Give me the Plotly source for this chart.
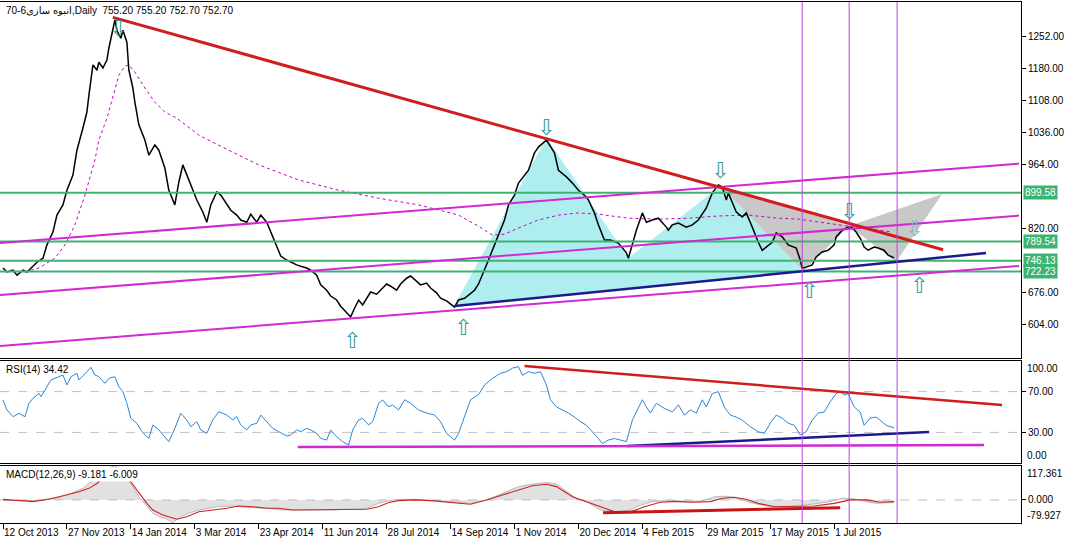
import plotly.graph_objects as go
from plotly.subplots import make_subplots

# ---------------- data (bar index = trading day from 12 Oct 2013) ----------------
date_tick_bars = [0, 32, 64, 96, 128, 160, 192, 224, 256, 288, 320, 352, 384, 416]
date_labels = ["12 Oct 2013", "27 Nov 2013", "14 Jan 2014", "3 Mar 2014", "23 Apr 2014",
               "11 Jun 2014", "28 Jul 2014", "14 Sep 2014", "1 Nov 2014", "20 Dec 2014",
               "4 Feb 2015", "29 Mar 2015", "17 May 2015", "1 Jul 2015"]

price_bar = [0,2,5,7,10,12,15,17,20,22,25,27,30,32,35,37,40,42,43,45,47,48,50,52,53,55,56,57,59,60,
             62,63,65,66,68,71,73,76,78,81,83,86,88,90,92,95,97,100,102,104,107,109,112,114,117,119,122,124,127,129,
             132,134,137,139,142,144,147,149,152,154,157,159,162,164,167,169,172,174,176,178,180,182,184,187,189,192,194,197,199,202,
             204,207,209,212,214,217,219,222,224,226,228,231,233,236,238,241,243,246,248,251,253,256,258,261,263,266,268,272,273,276,
             278,282,285,288,292,293,296,298,301,304,308,312,313,315,317,320,322,325,328,332,333,335,338,342,345,348,352,355,358,360,
             362,363,365,367,370,372,375,378,380,382,385,387,390,393,397,399,400,402,405,407,410,413,416,417,420,423,425,427,429,431,
             433,436,438,441,443,446]
price_close = [730,721,725,714,725,721,734,743,752,782,811,849,872,905,939,995,1045,1081,1119,1187,
               1175,1193,1180,1198,1225,1272,1288,1265,1247,1265,1238,1175,1135,1103,1052,1018,984,1007,995,955,
               905,872,923,962,939,905,883,856,833,872,901,894,872,860,849,838,833,851,833,849,
               833,811,775,757,748,743,737,734,730,725,714,692,680,667,658,644,631,620,640,658,
               647,662,676,671,680,694,689,680,694,707,712,701,692,696,685,674,662,656,649,642,
               658,662,669,680,694,725,748,782,804,838,872,894,921,939,950,989,1002,1018,1011,989,
               950,935,921,905,890,883,854,827,793,793,786,764,752,786,815,854,833,838,842,822,
               815,827,831,822,827,838,865,899,917,912,883,899,876,856,845,854,822,788,770,777,
               788,809,800,782,775,748,730,732,737,755,766,770,782,800,815,822,820,811,797,777,
               770,777,775,770,759,752.7]

ma_bar = [11,18,26,31,36,41,46,48,52,56,58,61,63,66,71,76,81,87,98,113,128,148,168,188,208,228,238,245,251,258,
          268,278,288,298,313,328,343,358,373,388,398,412,423,433,445]
ma_val = [721,730,752,782,827,894,973,1018,1067,1130,1164,1184,1187,1171,1135,1103,1081,1067,1029,995,
          962,928,905,887,872,849,824,804,806,820,838,849,854,851,842,840,842,847,849,842,840,831,824,818,811]

rsi_bar = [0,2,5,8,11,13,15,18,19,22,24,28,30,32,34,37,38,42,44,46,48,51,53,56,58,60,62,64,67,69,
           71,73,75,78,81,83,86,89,92,94,97,99,102,105,108,112,115,117,119,122,124,127,129,132,135,138,142,144,147,149,
           152,154,157,159,162,164,167,170,173,175,178,180,183,185,188,190,193,195,198,
           201,204,208,212,216,219,222,226,228,231,234,238,241,245,249,252,255,258,260,263,266,269,272,274,277,280,283,286,289,292,
           295,298,300,303,306,309,312,315,318,320,322,324,327,331,335,338,341,344,347,350,352,355,358,361,364,367,370,374,378,381,
           384,387,390,393,396,399,402,405,408,411,414,417,419,421,423,426,429,431,434,437,439,442,446]
rsi_val = [61.8,52,45.4,48.7,45.4,58.5,63.4,68.3,65,74.8,81.4,84.6,86.3,76.5,84.6,88,81.4,89.5,93.8,86.3,
           84.6,78.1,83,84.6,74.8,70,58.5,43.8,38.9,32.4,27.5,24.2,37.3,32.4,25.8,20.9,34,48.7,42.2,35.6,
           40.5,32.4,29.1,42.2,50.3,47,42.2,45.4,37.3,32.4,37.3,38.9,47,40.5,34,30.7,26.5,27.5,32.4,30.7,
           34,32.4,29.1,24.2,22.5,32.4,25.8,20.9,17.6,32.4,42.2,43.8,37.3,40.5,58.5,61.8,55.2,56.9,52,
           62,58.5,52,49,47,40.5,29,22.5,29,45,62,67,76.5,83,88,89.5,93,94.5,86,89.5,
           88,89.5,76.5,62,55,52,49,45,40.5,37,30.7,24,19,22.5,24,22.5,21,42,53.6,62,
           55,49,58.5,53.6,50,57,47,52,49,62,55,68,70,55,47,45,42,35.6,30.7,29,
           39,47,44,39,37,27.5,30.7,42,49,50,60,68,70,66.7,68,55,50,37,44,45,42,37,34.42]

macd_bar = [0,8,18,23,28,32,36,40,43,46,48,52,55,58,62,63,65,68,70,72,75,78,82,85,88,93,98,103,108,115,
            123,132,140,148,158,165,173,182,188,193,198,206,218,234,242,250,258,265,272,277,281,287,293,299,305,313,319,325,333,341,
            349,356,362,368,374,382,390,398,406,414,420,426,432,437,446]
macd_val = [-2,-3,-2,5,8,17,28,40,57,69,85,105,117,112,90,66,46,11,-6,-23,-46,-58,-66,-79,-62,-46,-35,-29,-23,-21,
            -26,-29,-35,-35,-35,-35,-32,-29,-12,-3,2,2,-3,-12,0,23,46,55,60,55,34,5,-9.5,-35,-41,-37,-18,-6,-3,-7,
            -6,11,13,6,-9.5,-21,-23.5,-21,-14,-6,6,3.5,-6,-12,-9.181]
sig_bar = [0,8,15,23,32,38,43,47,51,56,61,64,68,72,75,80,87,92,98,105,112,118,125,132,138,145,152,158,165,173,
           178,182,188,193,198,206,214,224,234,242,250,258,265,272,277,285,293,301,307,313,321,329,337,345,354,360,366,372,378,386,
           396,406,416,424,432,439,446]
sig_val = [2,-2.6,-6,2,17,28,40,57,80,100,90,63,23,-12,-35,-52,-67,-58,-41,-35,-29,-21,-23.5,-29,-29,-35,-35,-35,-35,-32.5,
           -35,-32.5,-23.5,-9,-2.6,0,-2.6,-9.5,-15,0,17,34,49,54,46,11,-9.5,-29,-43,-44,-23.5,-8,-5,-8,-6,5.5,9,2,-12,-23.5,
           -23.5,-21,-12,0,0,-8,-6.009]

# drawn objects (bar index, price / indicator value)
red_trend_bar, red_trend_price = [55, 470.5], [1294, 771]
channel_bar = [-1.5, 508.5]
channel_upper, channel_middle, channel_lower = [786, 965], [669, 848], [554.5, 734.5]
navy_bar, navy_price = [226, 492], [644.5, 763.75]
green_levels = [899.58, 789.54, 746.13, 722.23]
pattern_bar = [226, 272, 313, 359, 400.5]
pattern_price = [646.75, 1022.5, 752.5, 914.5, 723.25]
gray1_bar, gray1_price = [359, 400.5, 423.5], [914.5, 723.25, 824.5]
gray2_bar, gray2_price = [423.5, 470, 447], [824.5, 896.5, 743.5]
down_bar, down_price = [57.5, 272, 359, 423.5], [1268, 1047.25, 950.5, 858.25]
faded_down_bar, faded_down_price = [456], [820]
up_bar, up_price = [174.5, 230, 403.5, 458.5], [568, 597.25, 680.5, 691.75]
vline_bar = [400, 423.5, 447.5]
rsi_red_bar, rsi_red_val = [261, 500], [95, 56.9]
rsi_navy_bar, rsi_navy_val = [312.5, 463.5], [16.7, 30.4]
rsi_mag_bar, rsi_mag_val = [147.5, 491], [15.7, 17.6]
macd_red_bar, macd_red_val = [300.3, 419], [-44.3, -27]

main_ticks = [604, 676, 820, 964, 1036, 1108, 1180, 1252]

# ---------------- layout constants ----------------
W, H = 1068, 546
RIGHT = 1021
def prow(p):
    return 1 - p / H

FONT = "Liberation Sans, DejaVu Sans, sans-serif"
GREEN = "#3CB371"
MAG = "#D22AD2"
VIOLET = "#C040E0"
RED = "#D01E1E"
NAVY = "#1A1A8C"
TEAL = "#3A9C9C"

fig = make_subplots(rows=3, cols=1, shared_xaxes=True, vertical_spacing=0)

# pattern fills
fig.add_trace(go.Scatter(x=pattern_bar + [pattern_bar[0]], y=pattern_price + [pattern_price[0]],
                         fill="toself", fillcolor="rgb(175,238,238)", mode="lines",
                         line=dict(width=0), hoverinfo="skip"), row=1, col=1)
for tb, tp in [(gray1_bar, gray1_price), (gray2_bar, gray2_price)]:
    fig.add_trace(go.Scatter(x=tb + [tb[0]], y=tp + [tp[0]], fill="toself",
                             fillcolor="rgb(200,200,200)", mode="lines",
                             line=dict(width=0), hoverinfo="skip"), row=1, col=1)
# moving average
fig.add_trace(go.Scatter(x=ma_bar, y=ma_val, mode="lines",
                         line=dict(color="#CC00CC", width=1, dash="3px,3px")), row=1, col=1)
# price
fig.add_trace(go.Scatter(x=price_bar, y=price_close, mode="lines",
                         line=dict(color="black", width=1.5)), row=1, col=1)

# RSI
fig.add_trace(go.Scatter(x=rsi_bar, y=rsi_val, mode="lines",
                         line=dict(color="#2B86D8", width=1)), row=2, col=1)
# MACD
fig.add_trace(go.Scatter(x=macd_bar, y=macd_val, mode="lines", fill="tozeroy",
                         fillcolor="rgba(180,180,180,0.4)",
                         line=dict(color="rgba(165,165,165,0.9)", width=0.8)), row=3, col=1)
fig.add_trace(go.Scatter(x=sig_bar, y=sig_val, mode="lines",
                         line=dict(color="#CC2222", width=1.1)), row=3, col=1)

shapes = []
# levels
for lv in [30, 70]:
    shapes.append(dict(type="line", xref="x", yref="y2", x0=-1.5, x1=509.5, y0=lv, y1=lv,
                       line=dict(color="#C0C0C0", width=1, dash="dash"), layer="below"))
shapes.append(dict(type="line", xref="x", yref="y3", x0=-1.5, x1=509.5, y0=0, y1=0,
                   line=dict(color="#C0C0C0", width=1, dash="dash"), layer="below"))
# green horizontal lines
for lv in green_levels:
    shapes.append(dict(type="line", xref="x", yref="y", x0=-1.5, x1=509.5, y0=lv, y1=lv,
                       line=dict(color=GREEN, width=2)))
# channel
for ch in [channel_upper, channel_middle, channel_lower]:
    shapes.append(dict(type="line", xref="x", yref="y", x0=channel_bar[0], x1=channel_bar[1],
                       y0=ch[0], y1=ch[1], line=dict(color=MAG, width=2)))
# navy support
shapes.append(dict(type="line", xref="x", yref="y", x0=navy_bar[0], x1=navy_bar[1],
                   y0=navy_price[0], y1=navy_price[1], line=dict(color=NAVY, width=2.5)))
# red trend
shapes.append(dict(type="line", xref="x", yref="y", x0=red_trend_bar[0], x1=red_trend_bar[1],
                   y0=red_trend_price[0], y1=red_trend_price[1], line=dict(color=RED, width=3)))
# RSI lines
shapes.append(dict(type="line", xref="x", yref="y2", x0=rsi_red_bar[0], x1=rsi_red_bar[1],
                   y0=rsi_red_val[0], y1=rsi_red_val[1], line=dict(color=RED, width=2.5)))
shapes.append(dict(type="line", xref="x", yref="y2", x0=rsi_navy_bar[0], x1=rsi_navy_bar[1],
                   y0=rsi_navy_val[0], y1=rsi_navy_val[1], line=dict(color=NAVY, width=2.5)))
shapes.append(dict(type="line", xref="x", yref="y2", x0=rsi_mag_bar[0], x1=rsi_mag_bar[1],
                   y0=rsi_mag_val[0], y1=rsi_mag_val[1], line=dict(color=MAG, width=2.5)))
# MACD line
shapes.append(dict(type="line", xref="x", yref="y3", x0=macd_red_bar[0], x1=macd_red_bar[1],
                   y0=macd_red_val[0], y1=macd_red_val[1], line=dict(color="#C81414", width=3)))
# vertical lines across all panels
for vb in vline_bar:
    shapes.append(dict(type="line", xref="x", yref="paper", x0=vb, x1=vb,
                       y0=prow(523), y1=prow(2), line=dict(color=VIOLET, width=1)))

annotations = []
ARROW_SIZE = 22
for b, p in zip(down_bar, down_price):
    annotations.append(dict(x=b, y=p, xref="x", yref="y", text="⇩", showarrow=False,
                            font=dict(family="DejaVu Sans", size=ARROW_SIZE, color=TEAL)))
for b, p in zip(faded_down_bar, faded_down_price):
    annotations.append(dict(x=b, y=p, xref="x", yref="y", text="⇩", showarrow=False,
                            font=dict(family="DejaVu Sans", size=ARROW_SIZE, color="#86BDBD")))
for b, p in zip(up_bar, up_price):
    annotations.append(dict(x=b, y=p, xref="x", yref="y", text="⇧", showarrow=False,
                            font=dict(family="DejaVu Sans", size=ARROW_SIZE, color=TEAL)))
# green price labels
for lv in green_levels:
    annotations.append(dict(x=(RIGHT + 2) / W, y=lv, xref="paper", yref="y", text=f"{lv:.2f}",
                            showarrow=False, xanchor="left", yanchor="middle",
                            bgcolor=GREEN, borderpad=1,
                            font=dict(family=FONT, size=10, color="white")))
# panel titles
annotations.append(dict(x=4 / W, y=prow(3), xref="paper", yref="paper",
                        text="70-6انبوه سازی,Daily  755.20 755.20 752.70 752.70",
                        showarrow=False, xanchor="left", yanchor="top",
                        font=dict(family=FONT, size=10, color="black")))
annotations.append(dict(x=4 / W, y=prow(362), xref="paper", yref="paper", text="RSI(14) 34.42",
                        showarrow=False, xanchor="left", yanchor="top",
                        font=dict(family=FONT, size=10, color="black")))
annotations.append(dict(x=4 / W, y=prow(467), xref="paper", yref="paper",
                        text="MACD(12,26,9) -9.181 -6.009", bgcolor="white",
                        showarrow=False, xanchor="left", yanchor="top",
                        font=dict(family=FONT, size=10, color="black")))
# edge labels of indicator scales
for txt, yp, anc in [("100.00", 361, "top"), ("0.00", 463, "bottom"),
                     ("117.361", 466, "top"), ("-79.927", 523, "bottom")]:
    annotations.append(dict(x=(RIGHT + 4) / W, y=prow(yp), xref="paper", yref="paper", text=txt,
                            showarrow=False, xanchor="left", yanchor=anc,
                            font=dict(family=FONT, size=10, color="black")))

axis_common = dict(showgrid=False, zeroline=False, showline=True, mirror=True,
                   linecolor="black", linewidth=1, automargin=False)
xd = [0, RIGHT / W]
fig.update_layout(
    width=W, height=H, margin=dict(l=0, r=0, t=0, b=0),
    paper_bgcolor="white", plot_bgcolor="white", showlegend=False,
    shapes=shapes, annotations=annotations,
    xaxis=dict(domain=xd, range=[-1.5, 509.5], showticklabels=False, ticks="", **axis_common),
    xaxis2=dict(domain=xd, range=[-1.5, 509.5], showticklabels=False, ticks="", **axis_common),
    xaxis3=dict(domain=xd, range=[-1.5, 509.5], tickvals=date_tick_bars, ticktext=date_labels,
                ticks="outside", ticklen=5, tickcolor="black", ticklabelposition="outside right",
                tickangle=0,
                tickfont=dict(family=FONT, size=10, color="black"), **axis_common),
    yaxis=dict(domain=[prow(358), prow(2)], range=[527.5, 1328.5], side="right",
               tickvals=main_ticks, ticktext=[f"{t:.2f}" for t in main_ticks],
               ticks="outside", ticklen=4, tickcolor="black",
               tickfont=dict(family=FONT, size=10, color="black"), **axis_common),
    yaxis2=dict(domain=[prow(463), prow(361)], range=[0, 100], side="right",
                tickvals=[30, 70], ticktext=["30.00", "70.00"],
                ticks="outside", ticklen=4, tickcolor="black",
                tickfont=dict(family=FONT, size=10, color="black"), **axis_common),
    yaxis3=dict(domain=[prow(523), prow(466)], range=[-79.927, 117.361], side="right",
                tickvals=[0], ticktext=["0.000"],
                ticks="outside", ticklen=4, tickcolor="black",
                tickfont=dict(family=FONT, size=10, color="black"), **axis_common),
)

fig.write_html("out.html", config={"displayModeBar": False},
               post_script="document.body.style.margin='0';document.body.style.overflow='hidden';")
